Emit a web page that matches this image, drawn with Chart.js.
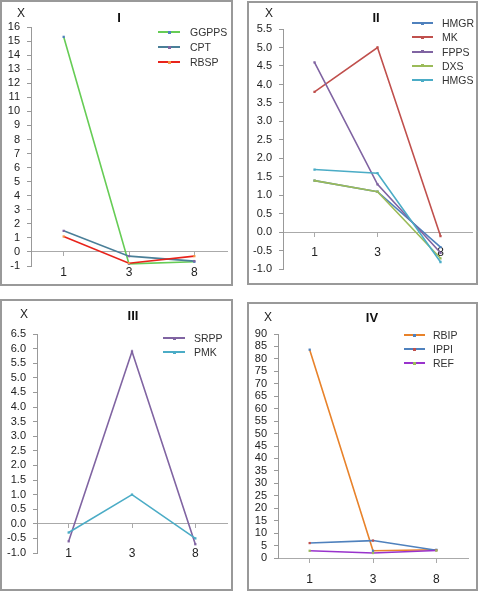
<!DOCTYPE html>
<html><head><meta charset="utf-8">
<script src="https://cdn.jsdelivr.net/npm/chart.js@4.4.0/dist/chart.umd.min.js"></script>
<style>
html,body{margin:0;padding:0;background:#fff;width:480px;height:592px;overflow:hidden;font-family:"Liberation Sans",Arial,sans-serif;}
.panel{position:absolute;border:2px solid #999;box-sizing:border-box;}
.cv{position:absolute;}
.xl{position:absolute;font-size:12px;color:#222;line-height:1;transform:translate(-50%,-50%);}
.ttl{position:absolute;font-size:13px;font-weight:bold;color:#111;line-height:1;transform:translate(-50%,-50%);}
.leg{position:absolute;font-size:10.5px;color:#333;}
</style></head><body>
<script>
// ---- data ----
const categories = ['1', '3', '8'];

const panel1Names = ['GGPPS', 'CPT', 'RBSP'];
const GGPPS = [15.3, -0.85, -0.7];
const CPT   = [1.5, -0.3, -0.65];
const RBSP  = [1.1, -0.8, -0.3];

const panel2Names = ['HMGR', 'MK', 'FPPS', 'DXS', 'HMGS'];
const HMGR = [1.4, 1.1, -0.4];
const MK   = [3.8, 5.0, -0.1];
const FPPS = [4.6, 1.3, -0.55];
const DXS  = [1.4, 1.1, -0.7];
const HMGS = [1.7, 1.6, -0.8];

const panel3Names = ['SRPP', 'PMK'];
const SRPP = [-0.6, 5.9, -0.7];
const PMK  = [-0.3, 1.0, -0.5];

const panel4Names = ['RBIP', 'IPPI', 'REF'];
const RBIP = [83.7, 2.9, 3.3];
const IPPI = [6.0, 7.0, 3.1];
const REF  = [2.9, 2.0, 3.0];

const panelTitles = ['I', 'II', 'III', 'IV'];
const yAxisLabel = 'X';
// y tick ranges [min, max, step]
const yTicks1 = [-1, 16, 1];
const yTicks2 = [-1, 5.5, 0.5];
const yTicks3 = [-1, 6.5, 0.5];
const yTicks4 = [0, 90, 5];

const FONT = '"Liberation Sans", Arial, sans-serif';

const panels = [
  {title: panelTitles[0], names: panel1Names, values: [GGPPS, CPT, RBSP], ticks: yTicks1, dec: 0,
   colors: ['#66cc55', '#4a7f98', '#e8231b'], markers: ['#4f81bd', '#8064a2', '#f79646'],
   box: [0, 0, 233, 286], cv: [2, 2, 229, 282], yw: 29, pt: 25, pb: 18, pr: 4, xpad: 10,
   ttl: [119, 17], xlab: [21, 13], leg: [158, 22, 190, 32, 15]},
  {title: panelTitles[1], names: panel2Names, values: [HMGR, MK, FPPS, DXS, HMGS], ticks: yTicks2, dec: 1,
   colors: ['#4f81bd', '#c0504d', '#8064a2', '#9bbb59', '#4bacc6'], markers: ['#4f81bd', '#c0504d', '#8064a2', '#9bbb59', '#4bacc6'],
   box: [247, 1, 231, 284], cv: [250, 4, 226, 279], yw: 33, pt: 25, pb: 12, pr: 0, xpad: 9,
   ttl: [376, 17], xlab: [269, 13], leg: [412, 21, 442, 23, 14.25]},
  {title: panelTitles[2], names: panel3Names, values: [SRPP, PMK], ticks: yTicks3, dec: 1,
   colors: ['#8064a2', '#4bacc6'], markers: ['#8064a2', '#4bacc6'],
   box: [0, 299, 233, 292], cv: [2, 302, 229, 287], yw: 35, pt: 32, pb: 36, pr: 4, xpad: 19,
   ttl: [133, 315], xlab: [24, 314], leg: [163, 22, 194, 338, 14]},
  {title: panelTitles[3], names: panel4Names, values: [RBIP, IPPI, REF], ticks: yTicks4, dec: 0,
   colors: ['#e8822a', '#4f81bd', '#9933cc'], markers: ['#4f81bd', '#c0504d', '#9bbb59'],
   box: [247, 302, 231, 289], cv: [250, 305, 226, 284], yw: 28, pt: 29, pb: 31, pr: 8, xpad: 10,
   ttl: [372, 317], xlab: [268, 317], leg: [404, 21, 433, 335, 14]}
];

function el(cls, css, text) {
  const d = document.createElement('div');
  d.className = cls;
  Object.assign(d.style, css);
  if (text !== undefined) d.textContent = text;
  document.body.appendChild(d);
  return d;
}

panels.forEach(p => {
  el('panel', {left: p.box[0] + 'px', top: p.box[1] + 'px', width: p.box[2] + 'px', height: p.box[3] + 'px'});
  const cv = document.createElement('canvas');
  cv.className = 'cv';
  cv.width = p.cv[2]; cv.height = p.cv[3];
  Object.assign(cv.style, {left: p.cv[0] + 'px', top: p.cv[1] + 'px', width: p.cv[2] + 'px', height: p.cv[3] + 'px'});
  document.body.appendChild(cv);

  const chart = new Chart(cv, {
    type: 'line',
    data: {
      labels: categories,
      datasets: p.names.map((n, i) => ({
        label: n, data: p.values[i], borderColor: p.colors[i], backgroundColor: p.markers[i],
        borderWidth: 1.6, pointRadius: 1.6, pointStyle: 'rect', pointBorderWidth: 0,
        pointBackgroundColor: p.markers[i], tension: 0, order: -i
      }))
    },
    options: {
      responsive: false, animation: false, events: [],
      layout: {padding: {left: 0, top: p.pt, bottom: p.pb, right: p.pr}},
      plugins: {legend: {display: false}, tooltip: {enabled: false}, title: {display: false}},
      scales: {
        x: {
          type: 'category', position: {y: 0}, offset: true,
          grid: {display: true, drawOnChartArea: false, drawTicks: true, tickLength: 4, color: '#aaa', offset: false},
          border: {color: '#aaa', width: 1},
          ticks: {padding: p.xpad, color: '#222', font: {family: FONT, size: 12}, maxRotation: 0, autoSkip: false},
          afterFit: s => { s.height = 0; }
        },
        y: {
          min: p.ticks[0], max: p.ticks[1],
          ticks: {stepSize: p.ticks[2], padding: 7, color: '#222', font: {family: FONT, size: 11}, autoSkip: false,
                  callback: v => Number(v).toFixed(p.dec)},
          grid: {drawOnChartArea: false, tickLength: 4, color: '#999'},
          border: {color: '#999', width: 1},
          afterFit: s => { s.width = p.yw; }
        }
      }
    }
  });

  el('ttl', {left: p.ttl[0] + 'px', top: p.ttl[1] + 'px'}, p.title);
  el('xl', {left: p.xlab[0] + 'px', top: p.xlab[1] + 'px'}, yAxisLabel);

  // legend built from the chart's datasets
  const [lx, lw, tx, y0, dy] = p.leg;
  chart.data.datasets.forEach((ds, i) => {
    const cy = y0 + dy * i;
    el('leg', {left: lx + 'px', top: (cy - 1) + 'px', width: lw + 'px', height: '2px', background: ds.borderColor});
    el('leg', {left: (lx + lw / 2 - 1.5) + 'px', top: (cy - 1.5) + 'px', width: '3px', height: '3px', background: ds.pointBackgroundColor});
    el('leg', {left: tx + 'px', top: cy + 'px', transform: 'translateY(-50%)', lineHeight: '1', whiteSpace: 'nowrap'}, ds.label);
  });
});
</script>
</body></html>
